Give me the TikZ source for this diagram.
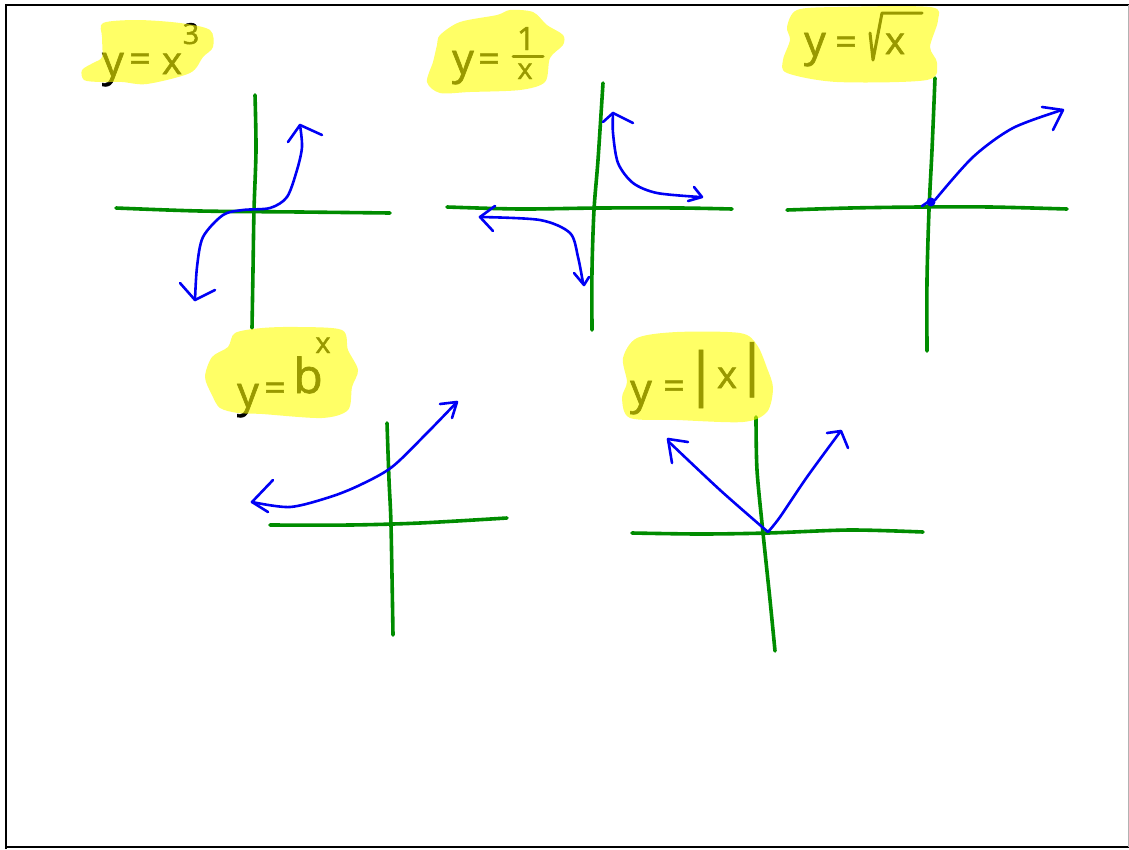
\documentclass[tikz,border=0pt]{standalone}
\usepackage{fontspec}
\setmainfont{Open Sans}
\newfontfamily\hand[FakeBold=1.4]{Open Sans}
\definecolor{axg}{RGB}{0,140,0}
\definecolor{crv}{RGB}{0,0,245}
\definecolor{hl}{RGB}{255,255,0}
\begin{document}
\begin{tikzpicture}[x=1pt,y=-1pt,
 axis/.style={draw=axg,line width=3.6pt,line cap=round,line join=round},
 curve/.style={draw=crv,line width=2.6pt,line cap=round,line join=round},
 ink/.style={draw=black,line width=3pt,line cap=round,line join=round},
 hilite/.style={fill=hl,fill opacity=0.6,draw=none},
 glyph/.style={inner sep=0pt,anchor=base,font=\hand\fontsize{38}{40}\selectfont},
 sglyph/.style={glyph,font=\hand\fontsize{29}{31}\selectfont},
 yglyph/.style={glyph,font=\hand\fontsize{43}{45}\selectfont}]
\useasboundingbox (0,0) rectangle (1129,849);
\fill[white] (0,0) rectangle (1129,849);
% frame
\draw[line width=2.6pt] (6,849) -- (6,5) -- (1129,5);
\draw[line width=2.6pt] (6,847) -- (1129,847);
\draw[gray!60,line width=1pt] (1128,5) -- (1128,847);

% ---------- graph 1: y = x^3
\draw[axis] plot[smooth] coordinates {(116,208) (200,211) (300,212) (390,213)};
\draw[axis] plot[smooth] coordinates {(255,95) (256,150) (254,210) (253,270) (252,328)};
\draw[curve] plot[smooth] coordinates {(195,300) (197,267) (203,237) (223,215) (243,210) (270,208) (287,197) (297,170) (302,147) (300,125)};
\draw[curve] (180,283) -- (195,300) -- (215,290);
\draw[curve] (288,142) -- (300,125) -- (322,135);

% ---------- graph 2: y = 1/x
\draw[axis] plot[smooth] coordinates {(447,207) (520,209) (600,208) (680,208) (732,209)};
\draw[axis] plot[smooth] coordinates {(603,83) (598,160) (594,210) (592,270) (592,330)};
\draw[curve] plot[smooth] coordinates {(613,113) (613,133) (618,163) (633,183) (657,193) (700,197)};
\draw[curve] (694,187) -- (702,197) -- (688,201);
\draw[curve] (603,122) -- (613,113) -- (633,123);
\draw[curve] plot[smooth] coordinates {(480,217) (540,220) (570,233) (578,257) (583,283)};
\draw[curve] (495,206) -- (480,217) -- (493,231);
\draw[curve] (574,273) -- (584,285) -- (589,277);

% ---------- graph 3: y = sqrt x
\draw[axis] plot[smooth] coordinates {(787,210) (850,208) (920,207) (990,207) (1067,209)};
\draw[axis] plot[smooth] coordinates {(935,78) (932,150) (929,210) (927,280) (927,351)};
\fill[crv] (931,202) circle (4.5);
\draw[curve] (922,206) -- (931,200);
\draw[curve] plot[smooth] coordinates {(935,200) (973,157) (1013,128) (1062,110)};
\draw[curve] (1042,107) -- (1063,110) -- (1053,130);

% ---------- graph 4: y = b^x
\draw[axis] plot[smooth] coordinates {(270,525) (350,525) (420,523) (507,518)};
\draw[axis] plot[smooth] coordinates {(387,423) (389,480) (391,525) (393,635)};
\draw[curve] plot[smooth] coordinates {(252,502) (290,507) (330,497) (360,485) (392,467) (427,433) (457,402)};
\draw[curve] (440,404) -- (457,402) -- (452,418);
\draw[curve] (273,480) -- (252,502) -- (268,512);

% ---------- graph 5: y = |x|
\draw[axis] plot[smooth] coordinates {(632,533) (700,534) (768,533) (850,530) (923,532)};
\draw[axis] plot[smooth] coordinates {(756,417) (757,470) (763,533) (770,600) (775,651)};
\draw[curve] plot[smooth] coordinates {(668,441) (720,490) (768,532)};
\draw[curve] plot[smooth] coordinates {(768,532) (780,517) (807,477) (840,432)};
\draw[curve] (688,442) -- (668,439) -- (672,463);
\draw[curve] (827,433) -- (841,431) -- (848,448);

% ---------- labels (black ink, highlighter on top)
% label 1
\node[yglyph] (l1y) at (113,76) {y};
\node[glyph] (l1eq) at (140,72) {=};
\node[glyph] (l1x) at (172,74) {x};
\node[sglyph] (l1e) at (191,44) {3};
% label 2
\node[yglyph] (l2y) at (463,74) {y};
\node[glyph] (l2eq) at (489,72) {=};
\node[glyph,font=\hand\fontsize{32}{34}\selectfont] (l2n) at (526,50) {1};
\draw[ink] (513,56) -- (543,56);
\node[sglyph] (l2d) at (525,79) {x};
% label 3
\node[yglyph] (l3y) at (815,56) {y};
\node[glyph] (l3eq) at (846,55) {=};
\draw[ink] (870,33) -- (873,60) -- (882,13) -- (922,13);
\node[glyph] (l3x) at (895,54) {x};
% label 4
\node[yglyph] (l4y) at (248,407) {y};
\node[glyph] (l4eq) at (275,401) {=};
\node[glyph,font=\hand\fontsize{48}{50}\selectfont] (l4b) at (308,393) {b};
\node[sglyph] (l4e) at (323,353) {x};
% label 5
\node[yglyph] (l5y) at (641,404) {y};
\node[glyph] (l5eq) at (674,399) {=};
\node[glyph,font=\hand\fontsize{58}{60}\selectfont] (l5a) at (701,394) {|};
\node[glyph] (l5x) at (727,388) {x};
\node[glyph,font=\hand\fontsize{55}{57}\selectfont] (l5b) at (752,384) {|};

% highlighter blobs
\fill[hilite] plot[smooth cycle] coordinates {(103,23) (137,20) (180,23) (210,30) (213,47) (203,57) (190,73) (147,84) (122,82) (100,82) (84,80) (82,70) (93,63) (102,57) (102,37)};
\fill[hilite] plot[smooth cycle] coordinates {(440,35) (460,22) (497,15) (510,10) (533,12) (547,25) (563,35) (563,45) (550,58) (545,82) (520,90) (470,92) (440,93) (427,82) (433,62) (437,45)};
\fill[hilite] plot[smooth cycle] coordinates {(797,10) (837,7) (930,7) (938,20) (930,47) (937,63) (927,80) (837,82) (787,73) (783,60) (790,40) (787,27)};
\fill[hilite] plot[smooth cycle] coordinates {(235,333) (262,328) (298,327) (342,330) (348,350) (358,370) (352,387) (348,410) (322,418) (262,414) (238,413) (220,408) (212,395) (205,377) (212,357) (228,347)};
\fill[hilite] plot[smooth cycle] coordinates {(637,338) (677,332) (740,333) (757,345) (767,368) (773,388) (767,412) (743,422) (677,420) (630,418) (622,398) (627,382) (623,358)};
\end{tikzpicture}
\end{document}
